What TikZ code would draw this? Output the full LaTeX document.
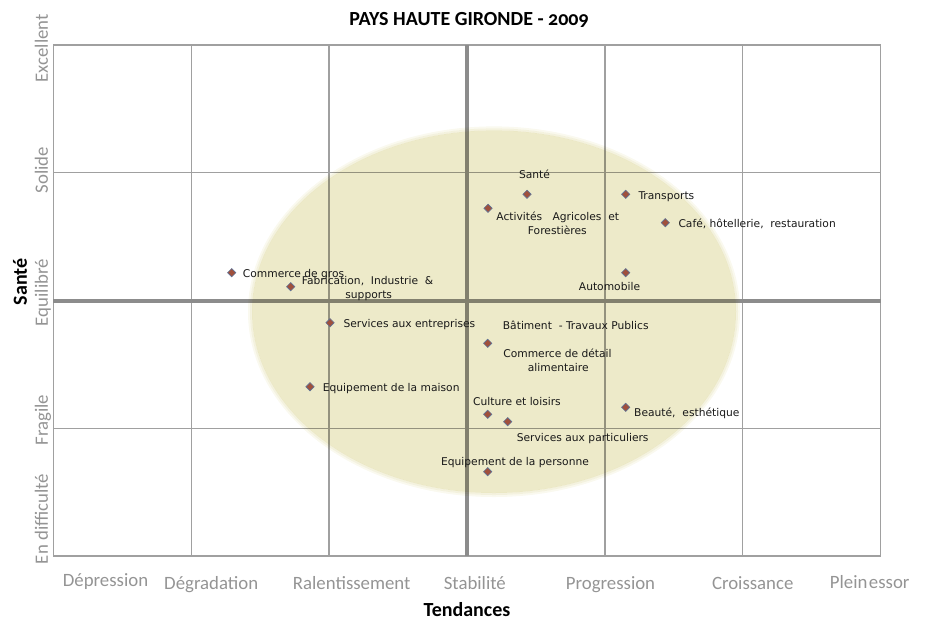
\documentclass[tikz,border=0pt]{standalone}
\usepackage{fontspec}
\setmainfont{DejaVu Sans}
\newfontfamily\calib{Carlito}
\newfontfamily\calibold[Numbers=OldStyle]{Carlito}
\usetikzlibrary{shapes.geometric}
\definecolor{gridgray}{RGB}{160,160,160}
\definecolor{axisgray}{RGB}{148,148,148}
\definecolor{thickgray}{RGB}{140,140,140}
\definecolor{ellfill}{RGB}{237,234,201}
\definecolor{markfill}{RGB}{160,80,60}
\definecolor{markedge}{RGB}{95,115,150}
\definecolor{lbltext}{RGB}{25,25,25}
\begin{document}
\begin{tikzpicture}[x=1pt,y=-1pt,
  thingrid/.style={draw=gridgray,line width=1.3pt},
  thickaxis/.style={draw=thickgray,line width=4pt},
  marker/.style={diamond,fill=markfill,draw=markedge,line width=0.6pt,inner sep=0pt,minimum size=8.5pt},
  lbl/.style={inner sep=0pt,font=\fontsize{10.7}{13}\selectfont,text=lbltext},
  cat/.style={inner sep=0pt,font=\calib\fontsize{18.8}{20}\selectfont,text=axisgray},
  ttl/.style={inner sep=0pt,font=\calibold\bfseries\fontsize{20}{22}\selectfont,text=black}]
\useasboundingbox (0,0) rectangle (925,621);
% grid
\foreach \gx in {53.3,191.2,329.1,604.9,742.8,880.7}
  \draw[thingrid] (\gx,45) -- (\gx,556);
\foreach \gy in {45,172.75,428.25,556}
  \draw[thingrid] (53.3,\gy) -- (880.7,\gy);
\draw[thickaxis] (467,45) -- (467,556);
\draw[thickaxis] (53.3,300.5) -- (880.7,300.5);
% ellipse with soft edge
\begin{scope}[blend mode=multiply]
  \fill[ellfill] (494,311.7) ellipse [x radius=242, y radius=181.3];
  \fill[ellfill,opacity=0.6,even odd rule] (494,311.7) ellipse [x radius=244, y radius=183.3]
     (494,311.7) ellipse [x radius=242, y radius=181.3];
  \fill[ellfill,opacity=0.3,even odd rule] (494,311.7) ellipse [x radius=246, y radius=185.3]
     (494,311.7) ellipse [x radius=244, y radius=183.3];
\end{scope}
% title and axis titles
\node[ttl,anchor=base] (title) at (469,25) {PAYS HAUTE GIRONDE - 2009};
\node[ttl,anchor=base,rotate=90] (ytitle) at (27,282) {Santé};
\node[ttl,anchor=base] (xtitle) at (467,616) {Tendances};
% y categories
\node[cat,anchor=base,rotate=90] (yc1) at (47.8,48.3) {Excellent};
\node[cat,anchor=base,rotate=90] (yc2) at (47.8,170) {Solide};
\node[cat,anchor=base,rotate=90] (yc3) at (47.8,292.5) {Equilibré};
\node[cat,anchor=base,rotate=90] (yc4) at (47.8,420) {Fragile};
\node[cat,anchor=base,rotate=90] (yc5) at (47.8,519) {En difficulté};
% x categories
\node[cat,anchor=base] (xc1) at (105.5,586) {Dépression};
\node[cat,anchor=base] (xc2) at (211.2,589) {Dégradation};
\node[cat,anchor=base] (xc3) at (351.7,589) {Ralentissement};
\node[cat,anchor=base] (xc4) at (474.8,589) {Stabilité};
\node[cat,anchor=base] (xc5) at (610.5,589) {Progression};
\node[cat,anchor=base] (xc6) at (752.7,589) {Croissance};
\node[cat,anchor=base] (xc7) at (869.7,588) {Plein\hspace{1.5pt}essor};
% markers
\node[marker] (m1) at (231.7,272.7) {};
\node[marker] (m2) at (290.7,286.7) {};
\node[marker] (m3) at (330,322.7) {};
\node[marker] (m4) at (310,386.7) {};
\node[marker] (m5) at (527,194.3) {};
\node[marker] (m6) at (488,208.3) {};
\node[marker] (m7) at (625.7,194.3) {};
\node[marker] (m8) at (665.3,222.7) {};
\node[marker] (m9) at (625.7,272.7) {};
\node[marker] (m10) at (487.7,343.3) {};
\node[marker] (m12) at (487.7,414.3) {};
\node[marker] (m13) at (507.7,421.7) {};
\node[marker] (m14) at (625.7,407.3) {};
\node[marker] (m15) at (487.7,471.7) {};
% labels
\node[lbl,anchor=base west] (t1) at (242.7,277) {Commerce de gros};
\node[lbl,anchor=base west] (t2a) at (301.7,284) {Fabrication,\ \ Industrie\ \ \&};
\node[lbl,anchor=base] (t2b) at (368.7,298) {supports};
\node[lbl,anchor=base west] (t3) at (343.3,327.3) {Services aux entreprises};
\node[lbl,anchor=base west] (t4) at (322.7,391.3) {Equipement de la maison};
\node[lbl,anchor=base] (t5) at (534.5,178) {Santé};
\node[lbl,anchor=base] (t6a) at (557.8,220) {Activités\ \ \ Agricoles\ \ et};
\node[lbl,anchor=base] (t6b) at (557.3,234) {Forestières};
\node[lbl,anchor=base west] (t7) at (638.3,199) {Transports};
\node[lbl,anchor=base west] (t8) at (678.3,227.3) {Café, hôtellerie,\ \ restauration};
\node[lbl,anchor=base] (t9) at (609.5,290) {Automobile};
\node[lbl,anchor=base west] (t10) at (502.7,329.3) {Bâtiment\ \ - Travaux Publics};
\node[lbl,anchor=base] (t11a) at (557.5,357.3) {Commerce de détail};
\node[lbl,anchor=base] (t11b) at (558.3,371.3) {alimentaire};
\node[lbl,anchor=base] (t12) at (517,405) {Culture et loisirs};
\node[lbl,anchor=base] (t13) at (582.7,441) {Services aux particuliers};
\node[lbl,anchor=base west] (t14) at (634,416) {Beauté,\ \ esthétique};
\node[lbl,anchor=base] (t15) at (515,465) {Equipement de la personne};
\end{tikzpicture}
\end{document}
